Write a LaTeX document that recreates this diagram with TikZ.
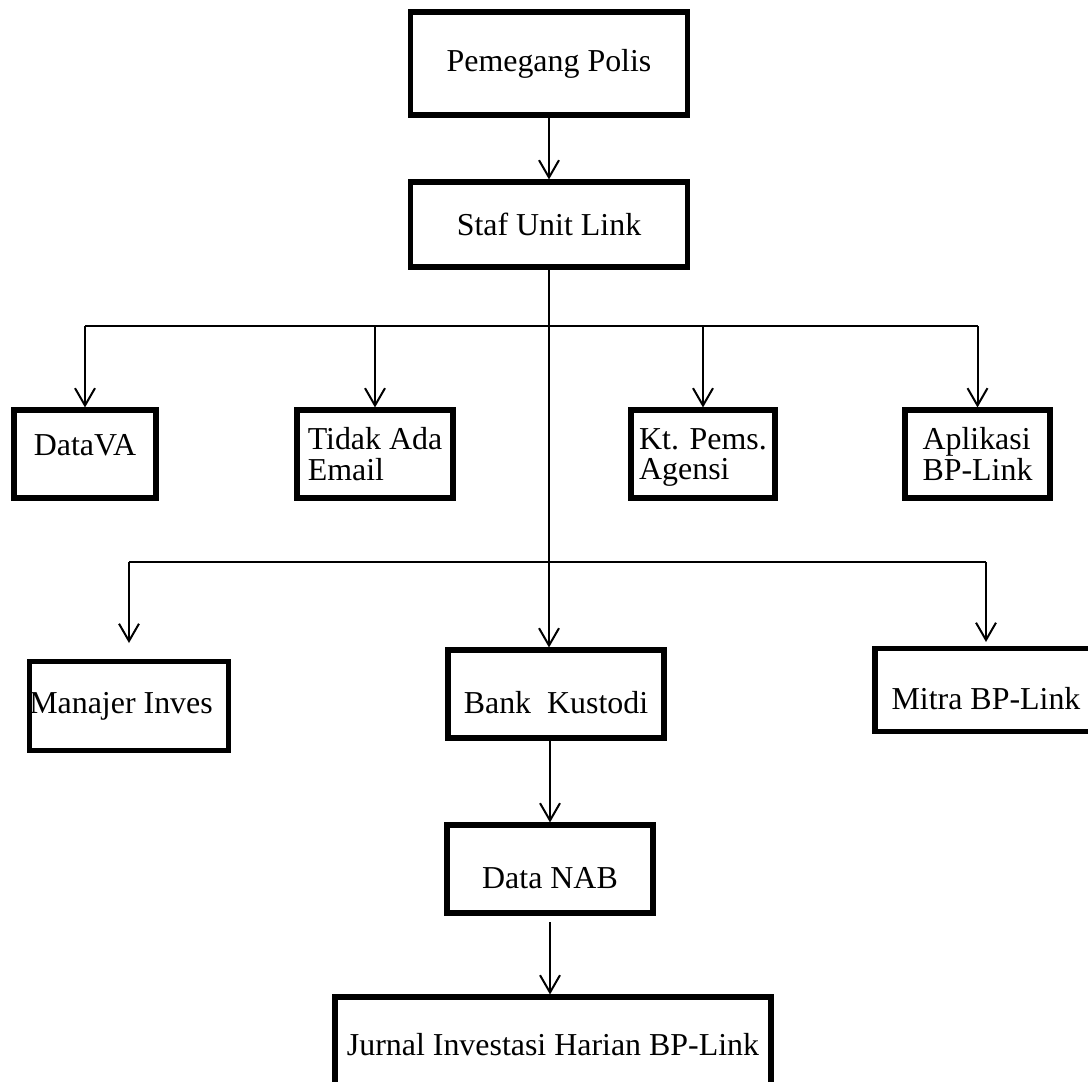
\documentclass[tikz,border=0pt]{standalone}
\usepackage{fontspec}
\setmainfont{Liberation Serif}
\usetikzlibrary{arrows.meta}

\tikzset{
  box/.style={draw, line width=1.9pt, inner sep=0pt, align=left,
    font=\fontsize{12}{11.5}\selectfont},
  sz/.style 2 args={minimum width=#1*0.376pt, minimum height=#2*0.376pt},
  arr/.style={-{Straight Barb[length=6.5pt,width=7.5pt]}, line width=0.75pt},
  textup/.style={text depth=7pt},
  textdown/.style={text height=15pt},
}

\begin{document}
\begin{tikzpicture}[x=0.376pt, y=-0.376pt]
  \useasboundingbox (0,0) rectangle (1088,1082);
  \clip (0,0) rectangle (1088,1082);

  % boxes
  \node[box, sz={277}{103}] (polis) at (549,63.5) {Pemegang Polis};
  \node[box, sz={277}{85}] (staf) at (549,224.5) {Staf Unit Link};

  \node[box, sz={142}{88}, textup] (datava) at (85,454) {DataVA};
  \node[box, sz={156}{88}] (tidak) at (375,454) {Tidak Ada\\Email};
  \node[box, sz={144}{88}, text depth=0pt] (kt) at (703,454) {Kt. Pems.\\Agensi};
  \node[box, sz={145}{88}] (apl) at (977.5,454) {Aplikasi\\BP-Link};

  \node[box, sz={199}{89}] (manajer) at (129,706) {Manajer Inves\hspace{6pt}};
  \node[box, sz={216}{88}, textdown] (bank) at (556,694) {Bank\ \ Kustodi};
  \node[box, sz={222}{83}, textdown] (mitra) at (986,690) {Mitra BP-Link};

  \node[box, sz={206}{88}, textdown] (nab) at (550,869) {Data NAB};
  \node[box, sz={436}{106}, text depth=4pt] (jurnal) at (553,1050) {Jurnal Investasi Harian BP-Link};

  % connectors
  \coordinate (busA) at (548,326);
  \coordinate (busB) at (548,562);

  \draw[arr] (polis) -- (staf);
  \draw[arr] (staf) -- (staf |- bank.north);

  \draw[line width=0.75pt] (datava |- busA) -- (apl |- busA);
  \foreach \n in {datava,tidak,kt,apl} {\draw[arr] (\n |- busA) -- (\n);};

  \draw[line width=0.75pt] (manajer |- busB) -- (mitra |- busB);
  \draw[arr, shorten >=6pt] (manajer |- busB) -- (manajer);
  \draw[arr, shorten >=1.5pt] (mitra |- busB) -- (mitra);

  \draw[arr] (nab |- bank.south) -- (nab);
  \draw[arr, shorten <=2.5pt] (nab) -- (nab |- jurnal.north);
\end{tikzpicture}
\end{document}
